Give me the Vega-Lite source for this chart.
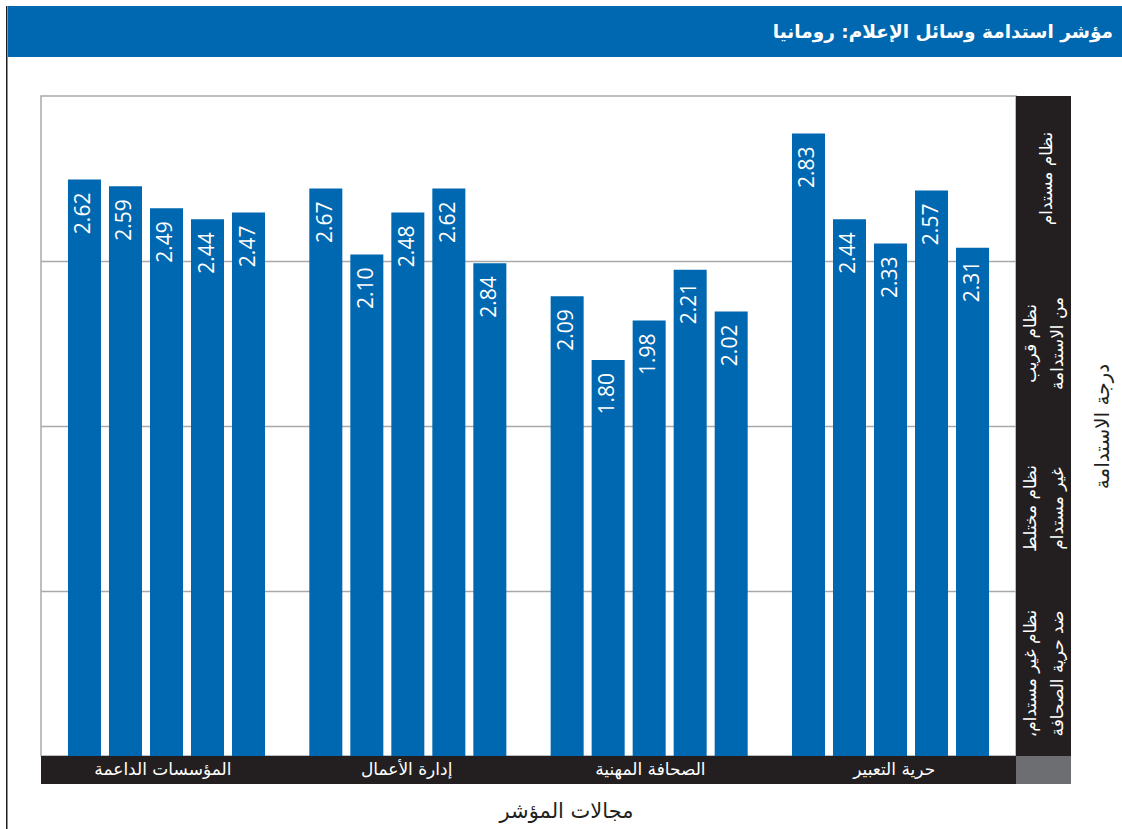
{
  "$schema": "https://vega.github.io/schema/vega-lite/v6.json",
  "background": "white",
  "padding": {"left": 6, "top": 6, "right": 0, "bottom": 0},
  "config": {"view": {"stroke": null}, "concat": {"spacing": 0}, "font": "DejaVu Sans"},
  "datasets": {
    "title": [{"t": "مؤشر استدامة وسائل الإعلام: رومانيا"}],
    "areas": [
      {"area": "المؤسسات الداعمة"},
      {"area": "إدارة الأعمال"},
      {"area": "الصحافة المهنية"},
      {"area": "حرية التعبير"}
    ],
    "levels": [
      {"mid": 2.625, "line1": "نظام مستدام", "line2": ""},
      {"mid": 1.875, "line1": "نظام قريب", "line2": "من الاستدامة"},
      {"mid": 1.125, "line1": "نظام مختلط", "line2": "غير مستدام"},
      {"mid": 0.375, "line1": "نظام غير مستدام،\u200F", "line2": "ضد حرية الصحافة"}
    ],
    "bars": [
      {"area": "المؤسسات الداعمة", "study": 1, "score": 2.62, "label": "2.62"},
      {"area": "المؤسسات الداعمة", "study": 2, "score": 2.59, "label": "2.59"},
      {"area": "المؤسسات الداعمة", "study": 3, "score": 2.49, "label": "2.49"},
      {"area": "المؤسسات الداعمة", "study": 4, "score": 2.44, "label": "2.44"},
      {"area": "المؤسسات الداعمة", "study": 5, "score": 2.47, "label": "2.47"},
      {"area": "إدارة الأعمال", "study": 1, "score": 2.58, "label": "2.67"},
      {"area": "إدارة الأعمال", "study": 2, "score": 2.28, "label": "2.10"},
      {"area": "إدارة الأعمال", "study": 3, "score": 2.47, "label": "2.48"},
      {"area": "إدارة الأعمال", "study": 4, "score": 2.58, "label": "2.62"},
      {"area": "إدارة الأعمال", "study": 5, "score": 2.24, "label": "2.84"},
      {"area": "الصحافة المهنية", "study": 1, "score": 2.09, "label": "2.09"},
      {"area": "الصحافة المهنية", "study": 2, "score": 1.80, "label": "1.80"},
      {"area": "الصحافة المهنية", "study": 3, "score": 1.98, "label": "1.98"},
      {"area": "الصحافة المهنية", "study": 4, "score": 2.21, "label": "2.21"},
      {"area": "الصحافة المهنية", "study": 5, "score": 2.02, "label": "2.02"},
      {"area": "حرية التعبير", "study": 1, "score": 2.83, "label": "2.83"},
      {"area": "حرية التعبير", "study": 2, "score": 2.44, "label": "2.44"},
      {"area": "حرية التعبير", "study": 3, "score": 2.33, "label": "2.33"},
      {"area": "حرية التعبير", "study": 4, "score": 2.57, "label": "2.57"},
      {"area": "حرية التعبير", "study": 5, "score": 2.31, "label": "2.31"}
    ]
  },
  "spacing": 0,
  "hconcat": [
    {
      "width": 1.5, "height": 823,
      "view": {"fill": "#231f20", "stroke": null},
      "data": {"values": []},
      "mark": "rect",
      "encoding": {}
    },
    {
      "spacing": 38,
      "vconcat": [
        {
          "width": 1115, "height": 51,
          "view": {"fill": "#0067b1", "stroke": null},
          "data": {"name": "title"},
          "mark": {"type": "text", "align": "right", "baseline": "middle", "color": "white", "fontSize": 18.5, "fontWeight": "bold", "font": "DejaVu Sans", "dx": -10},
          "encoding": {"text": {"field": "t", "type": "nominal"}, "x": {"value": "width"}}
        },
        {
          "columns": 3,
          "bounds": "flush",
          "spacing": 0,
          "concat": [
            {
              "width": 32.5, "height": 660,
              "view": {"fill": "white", "stroke": null},
              "data": {"values": []},
              "mark": "rect",
              "encoding": {}
            },
            {
              "width": 975, "height": 660,
              "data": {"name": "bars"},
              "view": {"stroke": "#a7a9ac", "strokeWidth": 1.5},
              "encoding": {
                "x": {"field": "area", "type": "nominal", "sort": ["المؤسسات الداعمة", "إدارة الأعمال", "الصحافة المهنية", "حرية التعبير"], "scale": {"paddingInner": 0, "paddingOuter": 0.02}, "axis": null},
                "xOffset": {"field": "study", "type": "ordinal", "scale": {"paddingInner": 0.195, "paddingOuter": 0.54}},
                "y": {"field": "score", "type": "quantitative", "scale": {"domain": [0, 3], "nice": false}, "axis": {"values": [0.75, 1.5, 2.25], "grid": true, "gridColor": "#a7a9ac", "gridWidth": 1.5, "labels": false, "ticks": false, "domain": false, "title": null}}
              },
              "layer": [
                {"mark": {"type": "bar", "color": "#0067b1"}},
                {"mark": {"type": "text", "angle": 270, "align": "right", "baseline": "middle", "dx": -13, "color": "white", "fontSize": 21, "font": "Open Sans"}, "encoding": {"text": {"field": "label", "type": "nominal"}}}
              ]
            },
            {
              "width": 55, "height": 660,
              "data": {"name": "levels"},
              "view": {"fill": "#231f20", "stroke": null},
              "encoding": {
                "y": {"field": "mid", "type": "quantitative", "scale": {"domain": [0, 3], "nice": false}, "axis": {"orient": "right", "title": "درجة الاستدامة", "labels": false, "ticks": false, "domain": false, "grid": false, "minExtent": 0, "titleAngle": 270, "titleBaseline": "middle", "titleFontSize": 20, "titleFontWeight": "normal", "titleColor": "#231f20", "titlePadding": 31, "titleFont": "DejaVu Sans"}}
              },
              "layer": [
                {
                  "transform": [{"filter": "datum.line2 == ''"}],
                  "mark": {"type": "text", "angle": 270, "align": "center", "baseline": "middle", "dy": 3, "color": "white", "fontSize": 17, "font": "DejaVu Sans"},
                  "encoding": {"text": {"field": "line1", "type": "nominal"}}
                },
                {
                  "transform": [{"filter": "datum.line2 != ''"}],
                  "mark": {"type": "text", "angle": 270, "align": "center", "baseline": "middle", "dy": -13, "color": "white", "fontSize": 17, "font": "DejaVu Sans"},
                  "encoding": {"text": {"field": "line1", "type": "nominal"}}
                },
                {
                  "transform": [{"filter": "datum.line2 != ''"}],
                  "mark": {"type": "text", "angle": 270, "align": "center", "baseline": "middle", "dy": 14, "color": "white", "fontSize": 17, "font": "DejaVu Sans"},
                  "encoding": {"text": {"field": "line2", "type": "nominal"}}
                }
              ]
            },
            {
              "width": 32.5, "height": 28,
              "view": {"fill": "white", "stroke": null},
              "data": {"values": []},
              "mark": "rect",
              "encoding": {}
            },
            {
              "width": 975, "height": 28,
              "data": {"name": "areas"},
              "view": {"fill": "#231f20", "stroke": null},
              "mark": {"type": "text", "color": "white", "fontSize": 17, "font": "DejaVu Sans", "baseline": "middle"},
              "encoding": {
                "x": {"field": "area", "type": "nominal", "sort": ["المؤسسات الداعمة", "إدارة الأعمال", "الصحافة المهنية", "حرية التعبير"], "scale": {"paddingInner": 0, "paddingOuter": 0.02}, "axis": {"title": "مجالات المؤشر", "labels": false, "ticks": false, "domain": false, "grid": false, "minExtent": 0, "titleFontSize": 21, "titleFontWeight": "normal", "titleColor": "#231f20", "titlePadding": 16, "titleX": 525, "titleFont": "DejaVu Sans"}},
                "text": {"field": "area", "type": "nominal"}
              }
            },
            {
              "width": 55, "height": 28,
              "view": {"fill": "#6d6e71", "stroke": null},
              "data": {"values": []},
              "mark": "rect",
              "encoding": {}
            }
          ]
        }
      ]
    }
  ]
}
